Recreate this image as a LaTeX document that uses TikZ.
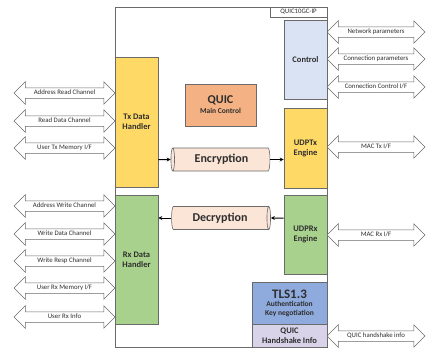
\documentclass[tikz,border=0pt]{standalone}
\usepackage{fontspec}
\setmainfont{Carlito}
\usetikzlibrary{shapes.arrows,shapes.geometric,arrows.meta}
\definecolor{edgegray}{HTML}{6A6A6A}
\definecolor{txyellow}{HTML}{FFD966}
\definecolor{rxgreen}{HTML}{A9D18E}
\definecolor{ctrlblue}{HTML}{DAE3F3}
\definecolor{mainorange}{HTML}{F4B183}
\definecolor{tlsblue}{HTML}{8FAADC}
\definecolor{hslav}{HTML}{D9D3EA}
\definecolor{cylpeach}{HTML}{FBE5D6}
\definecolor{txtgray}{HTML}{2E2E2E}
\tikzset{
  blockbox/.style={draw=edgegray, line width=0.6pt, inner sep=0pt, font=\bfseries\fontsize{8.5}{10}\selectfont, align=center, text=txtgray},
  iface/.style={double arrow, draw=edgegray, fill=white, line width=0.5pt, double arrow head extend=6pt,
    minimum width=22pt, minimum height=101pt, inner xsep=0pt, inner ysep=2pt,
    text height=4.5pt, text depth=1.5pt, font=\fontsize{6.8}{8}\selectfont, text=txtgray},
  cyl/.style={cylinder, draw=edgegray, fill=cylpeach, line width=0.6pt, minimum height=99pt, minimum width=23pt,
    aspect=0.35, inner sep=0pt, font=\bfseries\fontsize{12}{14}\selectfont, text=txtgray},
  flow/.style={-{Stealth[length=4pt,width=4pt]}, line width=1pt, black}
}
\begin{document}
\begin{tikzpicture}[x=1pt,y=-1pt]
\useasboundingbox (0,0) rectangle (427,349);
% main frame
\node[draw=edgegray, line width=0.6pt, minimum width=212pt, minimum height=340pt, inner sep=0pt] (frame) at (221,177) {};
\node[draw=edgegray, line width=0.5pt, minimum width=57pt, minimum height=10pt, inner sep=0pt, anchor=north east,
  font=\fontsize{6.8}{8}\selectfont, text=txtgray] (ip) at (frame.north east) {QUIC10GC-IP};
% blocks
\node[blockbox, fill=txyellow, minimum width=43pt, minimum height=130pt] (tx) at (136.5,122) {Tx Data\\Handler};
\node[blockbox, fill=rxgreen, minimum width=43pt, minimum height=129pt] (rx) at (136.5,259.5) {Rx Data\\Handler};
\node[blockbox, fill=ctrlblue, minimum width=43pt, minimum height=79pt] (ctrl) at (305.5,59.5) {Control};
\node[blockbox, fill=txyellow, minimum width=43pt, minimum height=80pt] (udptx) at (305.5,148) {UDPTx\\Engine};
\node[blockbox, fill=rxgreen, minimum width=43pt, minimum height=79pt] (udprx) at (305.5,234.5) {UDPRx\\Engine};
\node[blockbox, fill=tlsblue, minimum width=75pt, minimum height=42pt, font=\bfseries\fontsize{7.5}{8.5}\selectfont] (tls) at (289.5,303)
  {{\fontsize{13}{14}\selectfont TLS1.3}\\Authentication\\Key negotiation};
\node[blockbox, fill=hslav, minimum width=75pt, minimum height=23pt, font=\bfseries\fontsize{8.5}{9.5}\selectfont] (hs) at (289.5,335.5)
  {QUIC\\Handshake Info};
\node[blockbox, fill=mainorange, minimum width=71pt, minimum height=42pt, font=\bfseries\fontsize{7.5}{9}\selectfont] (main) at (220.5,105)
  {{\fontsize{12}{13}\selectfont QUIC}\\[1pt]Main Control};
% cylinders
\node[cyl, shape border rotate=180] (enc) at (221.5,159.5) {Encryption};
\node[cyl] (dec) at (220,218) {Decryption};
\draw[flow] (tx.east |- enc) -- (enc.west);
\draw[flow] (enc.east) -- (udptx.west |- enc);
\draw[flow] (udprx.west |- dec) -- (dec.east);
\draw[flow] (dec.west) -- (rx.east |- dec);
% left interfaces
\node[iface] (ar) at (64.5,93) {Address Read Channel};
\node[iface] (rd) at (64.5,121) {Read Data Channel};
\node[iface] (utx) at (64.5,148) {User Tx Memory I/F};
\node[iface] (aw) at (64.5,206) {Address Write Channel};
\node[iface] (wd) at (64.5,234) {Write Data Channel};
\node[iface] (wr) at (64.5,261) {Write Resp Channel};
\node[iface] (urx) at (64.5,288) {User Rx Memory I/F};
\node[iface] (uri) at (64.5,317) {User Rx Info};
% right interfaces
\node[iface, minimum height=98pt] (np) at (376,32) {Network parameters};
\node[iface, minimum height=98pt] (cp) at (376,59) {Connection parameters};
\node[iface, minimum height=98pt] (cc) at (376,87) {Connection Control I/F};
\node[iface, minimum height=98pt] (mtx) at (376,147) {MAC Tx I/F};
\node[iface, minimum height=98pt] (mrx) at (376,235) {MAC Rx I/F};
\node[iface, minimum height=98pt] (qhs) at (376,336) {QUIC handshake info};
\end{tikzpicture}
\end{document}
